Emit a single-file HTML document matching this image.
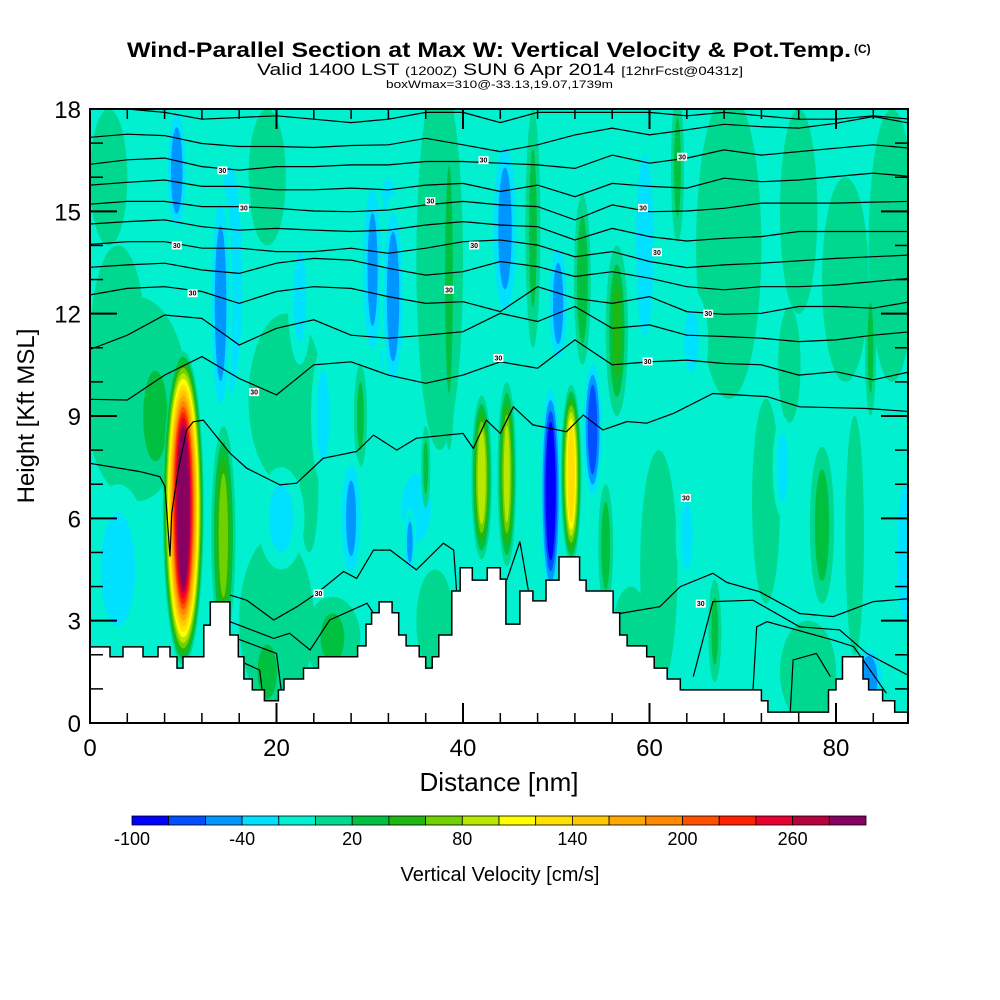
<!DOCTYPE html>
<html><head><meta charset="utf-8">
<style>
html,body{margin:0;padding:0;background:#fff;}
svg{display:block;font-family:"Liberation Sans",sans-serif;}
</style></head>
<body>
<svg id="chart" width="1000" height="1000" viewBox="0 0 1000 1000" xmlns="http://www.w3.org/2000/svg">
<defs><clipPath id="plotclip"><rect x="90" y="109" width="818" height="614"/></clipPath></defs>
<g>
<text x="127" y="57" font-size="21" font-weight="bold" textLength="724" lengthAdjust="spacingAndGlyphs">Wind-Parallel Section at Max W: Vertical Velocity &amp; Pot.Temp.</text>
<text x="854" y="53" font-size="12" font-weight="bold">(C)</text>
<text x="257" y="75" font-size="17" textLength="486" lengthAdjust="spacingAndGlyphs">Valid 1400 LST <tspan font-size="12">(1200Z)</tspan> SUN 6 Apr 2014 <tspan font-size="12">[12hrFcst@0431z]</tspan></text>
<text x="386" y="88" font-size="11" textLength="227" lengthAdjust="spacingAndGlyphs">boxWmax=310@-33.13,19.07,1739m</text>
</g>
<rect x="90" y="109" width="818" height="614" fill="#00f0d0"/>
<g id="field" clip-path="url(#plotclip)"></g>
<g id="contours" clip-path="url(#plotclip)"></g>
<g id="terrain"></g>
<g id="labels" clip-path="url(#plotclip)"></g>
<g id="axes"></g>
<text x="499" y="791" text-anchor="middle" font-size="26">Distance [nm]</text>
<text transform="translate(34,416) rotate(-90)" text-anchor="middle" font-size="24">Height [Kft MSL]</text>
<g id="colorbar"></g>
<text x="500" y="881" text-anchor="middle" font-size="20">Vertical Velocity [cm/s]</text>
</svg>
<script>
const NS="http://www.w3.org/2000/svg";
// ---- data ----
const binColors=["#0000ff","#0050ff","#0096ff","#00e0ff","#00f0d0","#00d890","#00c040","#20b810","#70d000","#b8e800","#ffff00","#ffe000","#ffc800","#ffa800","#ff8800","#ff5000","#ff2000","#e80030","#b80040","#880060"];
const cbTickValues=[-100,-40,20,80,140,200,260];
const xTickValues=[0,20,40,60,80];
const yTickValues=[0,3,6,9,12,15,18];
// features: [distance nm, height kft, half-width nm, half-height kft, peak cm/s]
const featX=[3,5,7,21,20,26,37,19,29,38.5,37.5,47.5,52.8,56.5,63,68.5,81,83.7,75,61,72.5,82,77,58,67,78.5,55.3,14.3,86,76,2,19,3,6.5,9.3,14,15,22.5,25,30.3,32.5,32,44.5,20.5,28,35,34.3,23.5,36,50.2,59.5,64.5,64,74.3,87.5,83.5,44.7,49.4,51.6,53.9,42,10];
const featY=[11,9.5,9,9.5,3,2.5,3,1.5,9,13,13.5,14.5,13,11.5,16.3,14,13,11,10.5,4.5,6.5,5.5,1.5,2.5,2.7,5.8,5.2,5.5,14,15,16,16,4.5,1.2,16.2,12.3,13,12.5,9,13.3,12.5,13,14.5,6,6,6.3,5.3,7,7.5,12.3,14,11.2,5.5,7.5,5,1.3,7.3,6.8,7.3,8.6,7.2,6.3];
const featRX=[3,5.5,2.5,4,4,3,2,2,0.7,0.8,2.5,0.8,0.9,1.2,0.7,3.5,2.5,0.6,1.2,2,1.5,1,3,2,0.7,1.3,0.8,1.3,2.5,2,2,2,3.5,0.7,1.3,1.3,2.5,1.3,1.3,1.5,1.4,2.5,1.7,2.5,1.5,3,0.7,1,0.5,1.3,1.8,1.8,1.2,1.1,1.8,1.8,1,1.2,1.1,1.2,1.1,2.2];
const featRY=[3,3,2,2.5,2.5,1.2,1.5,1.2,1.5,5,5.5,3.5,2.5,2.5,2.2,4.5,3,2,1.7,3.5,3,3.5,1.5,1.5,1.5,2.3,1.8,3.2,4,3,2,2,2.5,0.5,2,3.6,5,2,2,3,3,4.5,3,1.5,2,1.5,1,2,1.2,2,4,1.5,1.5,1.5,3,1,2.7,3.3,2.6,2.2,2.4,4.6];
const featPeak=[10,10,30,10,15,25,15,30,30,30,10,30,40,45,30,10,10,30,10,20,12,12,12,12,30,35,35,70,10,10,10,15,-30,-55,-55,-55,-30,-30,-30,-45,-55,-30,-50,-30,-45,-30,-50,15,30,-50,-30,-25,-30,-30,-30,-60,85,-105,135,-75,95,285];
// terrain: segment start (nm) and height (kft)
const terrX=[0,2.14,3.54,5.68,7.29,8.58,9.33,9.97,12.2,12.9,15.0,15.9,16.5,17.4,18.7,20.2,20.8,22.9,24.5,28.7,29.6,30.2,31.0,32.4,33.1,33.9,35.3,36.0,36.7,37.4,38.8,39.7,41.0,42.6,44.0,44.6,46.1,47.5,48.9,50.3,52.5,53.2,56.1,56.8,57.6,59.7,60.5,61.9,63.3,72.0,72.7,79.2,80.0,80.7,82.9,83.5,85.0,86.3];
const terrH=[2.23,1.94,2.23,1.94,2.23,1.94,1.61,1.94,2.87,3.55,2.58,1.94,1.29,0.97,0.65,0.97,1.29,1.61,1.94,2.26,2.9,3.23,3.55,3.23,2.58,2.26,1.94,1.61,1.94,2.58,3.87,4.55,4.19,4.55,4.22,2.9,3.87,3.58,4.19,4.87,4.19,3.87,3.23,2.58,2.26,1.94,1.61,1.29,0.97,0.65,0.32,0.97,1.29,1.94,1.29,0.97,0.65,0.32];
// upper theta contours sampled every 4 nm (0..88)
const gridX=[0,4,8,12,16,20,24,28,32,36,40,44,48,52,56,60,64,68,72,76,80,84,88];
const theta0=[18.0,18.0,17.9,17.7,17.75,17.8,17.7,17.6,17.7,17.9,17.9,17.6,17.9,17.9,17.9,17.9,17.8,17.9,17.8,17.7,17.7,17.8,17.7];
const theta1=[17.17,17.26,17.22,16.99,16.9,16.9,16.87,16.93,16.95,17.14,16.95,16.75,16.95,17.24,17.44,17.24,17.39,17.55,17.48,17.44,17.58,17.78,17.58];
const theta2=[16.38,16.51,16.56,16.31,16.21,16.31,16.31,16.36,16.36,16.46,16.46,16.41,16.36,16.26,16.65,16.41,16.56,16.8,16.65,16.75,16.85,16.95,16.85];
const theta3=[15.77,15.85,15.92,15.73,15.73,15.63,15.63,15.68,15.63,15.77,15.82,15.58,15.77,15.43,15.82,15.73,15.68,15.97,15.87,15.92,16.02,16.12,16.02];
const theta4=[15.21,15.29,15.29,15.14,15.14,15.09,15.01,14.99,15.04,15.19,15.29,15.19,15.14,14.75,15.19,14.99,15.01,15.09,15.24,15.24,15.24,15.27,15.29];
const theta5=[14.63,14.7,14.75,14.55,14.45,14.5,14.45,14.41,14.45,14.6,14.7,14.6,14.55,14.16,14.5,14.26,14.13,14.21,14.26,14.41,14.41,14.41,14.41];
const theta6=[14.03,14.11,14.11,13.92,13.92,13.82,13.82,13.92,13.77,13.92,14.11,14.16,14.01,13.67,13.82,13.53,13.35,13.43,13.48,13.55,13.62,13.67,13.72];
const theta7=[13.36,13.43,13.48,13.28,13.18,13.48,13.62,13.57,13.33,13.13,13.23,13.53,13.38,13.09,13.23,13.04,12.79,12.7,12.79,12.79,12.84,12.94,13.04];
const theta8=[12.55,12.74,12.79,12.65,12.3,12.65,12.79,12.74,12.5,12.3,12.35,12.06,12.79,12.45,12.3,12.5,12.06,11.98,12.01,12.21,12.21,12.16,12.35];
const theta9=[10.95,11.37,11.96,11.86,11.08,11.57,11.82,11.37,11.28,11.37,11.47,12.01,11.77,12.21,11.57,11.67,11.37,11.33,11.28,11.18,11.23,11.37,11.47];
const theta10=[9.49,9.47,10.2,10.74,10.1,9.62,10.5,10.59,10.2,9.96,10.2,10.59,10.4,11.23,10.5,10.59,10.64,10.54,10.5,10.2,10.3,10.06,10.3];
// lower contours: [nm, kft] pairs
const theta11=[[0,7.61],[5.36,7.37],[7.5,7.22],[8.04,6.93],[8.58,4.88],[8.76,6.15],[9.47,7.42],[10.36,8.59],[11.08,8.83],[12.15,8.88],[15.01,7.91],[16.8,7.47],[20.37,6.98],[22.16,7.03],[25.0,7.76],[28.6,7.96],[30.4,8.44],[32.9,8.0],[35.0,8.35],[40.0,8.49],[41.1,8.05],[42.5,8.88],[44.0,8.49],[45.4,9.27],[47.5,8.74],[51.1,8.54],[52.9,9.03],[55.0,8.59],[57.6,8.84],[59.7,8.79],[62.6,9.08],[66.8,9.66],[72.6,9.57],[76.1,9.27],[83.3,9.22],[88,9.13]];
const theta12a=[[15.0,3.75],[16.8,3.6],[19.7,3.02],[22.2,3.41],[24.3,3.8],[27.2,4.44],[28.6,4.24],[30.4,5.07],[32.2,5.07],[35.0,4.49],[37.9,5.27],[39.0,5.07],[39.3,3.9]];
const theta12b=[[44.7,4.19],[46.1,5.32],[47.0,3.9]];
const theta12c=[[56.8,3.21],[61.1,3.41],[63.3,4.0],[66.8,4.39],[68.3,4.12],[71.8,3.85],[76.1,3.21],[79.7,3.12],[84.0,3.56],[88,3.65]];
const theta13a=[[15.0,2.97],[19.7,2.48],[21.4,2.63],[23.6,2.14],[25.7,3.02],[29.7,3.51],[30.4,3.21]];
const theta13b=[[64.7,1.36],[66.8,3.56],[71.1,3.6],[76.1,2.82],[80.4,2.73],[83.3,2.04],[88,1.36]];
const theta14a=[[15.7,2.48],[20.0,2.04],[20.5,0.97]];
const theta14b=[[71.1,0.97],[71.5,2.82],[72.6,2.97],[79.7,2.43],[81.9,2.24],[85.4,0.87]];
const theta15a=[[16.6,1.75],[18.2,1.55],[18.6,0.67]];
const theta15b=[[75.1,0.33],[75.4,1.85],[77.9,2.04],[79.4,1.36]];
const labelX=[14.2,16.5,9.3,11,17.6,24.5,42.2,36.5,41.2,38.5,43.8,63.5,59.3,60.8,66.3,59.8,63.9,65.5];
const labelY=[16.2,15.1,14.0,12.6,9.7,3.8,16.5,15.3,14.0,12.7,10.7,16.6,15.1,13.8,12.0,10.6,6.6,3.5];

// ---- scales ----
const X0=90,X1=908,Y0=723,Y1=109,XMAX=(X1-X0)/9.325,YMAX=18;
const xS=v=>X0+v*9.325;
const yS=v=>Y0-v*(Y0-Y1)/YMAX;
const bin=v=>Math.max(0,Math.min(19,Math.floor((v+100)/20)));
function mk(tag,attrs,parent){const e=document.createElementNS(NS,tag);for(const k in attrs)e.setAttribute(k,attrs[k]);parent.appendChild(e);return e;}

// ---- field ----
const field=document.getElementById('field');
const order=featPeak.map((p,i)=>i).sort((a,b)=>Math.abs(featPeak[a])-Math.abs(featPeak[b]));
order.forEach(i=>{
  const p=featPeak[i];
  const g=mk('g',{},field);
  
  
  const steps=[];
  if(p>0){for(let t=0;t<p;t+=20)steps.push([t,bin(t+1),1-0.72*t/p]);}
  else{for(let t=0;t>p;t-=20)steps.push([t,bin(t-1),1-0.72*t/p]);}
  steps.forEach(s=>{
    const e=mk('ellipse',{cx:xS(featX[i]),cy:yS(featY[i]),rx:Math.max(0.5,featRX[i]*9.325*s[2]),ry:Math.max(0.5,featRY[i]*34.11*(0.3+0.7*s[2])),fill:binColors[s[1]]},g);
    
    
  });
});

// ---- contours ----
const cg=document.getElementById('contours');
[theta0,theta1,theta2,theta3,theta4,theta5,theta6,theta7,theta8,theta9,theta10].forEach((arr,j)=>{
  const d=arr.map((v,i)=>(i?'L':'M')+xS(gridX[i]).toFixed(1)+','+yS(v).toFixed(1)).join('');
  const p=mk('path',{d:d,fill:'none',stroke:'#000','stroke-width':1.2},cg);
  
  
});
[theta11,theta12a,theta12b,theta12c,theta13a,theta13b,theta14a,theta14b,theta15a,theta15b].forEach(arr=>{
  const d=arr.map((v,i)=>(i?'L':'M')+xS(v[0]).toFixed(1)+','+yS(v[1]).toFixed(1)).join('');
  const p=mk('path',{d:d,fill:'none',stroke:'#000','stroke-width':1.2},cg);
  
  
});

// ---- terrain ----
const tg=document.getElementById('terrain');
let td='M'+xS(terrX[0])+','+yS(terrH[0]);
for(let i=0;i<terrX.length;i++){
  const xe=i+1<terrX.length?xS(terrX[i+1]):X1;
  td+=' V'+yS(terrH[i]).toFixed(1)+' H'+xe.toFixed(1);
}
const tfill=mk('path',{d:td+' V'+Y0+' H'+X0+' Z',fill:'#fff',stroke:'none'},tg);


const tline=mk('path',{d:td,fill:'none',stroke:'#000','stroke-width':1.5},tg);



// ---- contour labels ----
const lg=document.getElementById('labels');
labelX.forEach((v,i)=>{
  const r=mk('rect',{x:xS(v)-5,y:yS(labelY[i])-4,width:10,height:8,fill:'#fff'},lg);
  
  
  const t=mk('text',{x:xS(v),y:yS(labelY[i])+2.5,'text-anchor':'middle','font-size':7,'font-weight':'bold'},lg);
  
  
  t.textContent='30';
});

// ---- axes ----
const ax=document.getElementById('axes');
const frame=mk('rect',{x:X0,y:Y1,width:X1-X0,height:Y0-Y1,fill:'none',stroke:'#000','stroke-width':2},ax);


for(let v=0;v<=XMAX;v+=4){
  const L=(v%20===0)?20:10;
  [[Y0,Y0-L],[Y1,Y1+L]].forEach(p=>{
    const l=mk('line',{x1:xS(v),x2:xS(v),y1:p[0],y2:p[1],stroke:'#000','stroke-width':(v%20===0)?2:1.5},ax);
    
    
  });
}
for(let v=0;v<=YMAX;v+=1){
  const L=(v%3===0)?27:13;
  [[X0,X0+L],[X1,X1-L]].forEach(p=>{
    const l=mk('line',{x1:p[0],x2:p[1],y1:yS(v),y2:yS(v),stroke:'#000','stroke-width':(v%3===0)?2:1.5},ax);
    
    
  });
}
xTickValues.forEach(v=>{
  const t=mk('text',{x:xS(v),y:756,'text-anchor':'middle','font-size':24},ax);
  
  
  t.textContent=v;
});
yTickValues.forEach(v=>{
  const t=mk('text',{x:81,y:yS(v)+9,'text-anchor':'end','font-size':24},ax);
  
  
  t.textContent=v;
});

// ---- colorbar ----
const cb=document.getElementById('colorbar');
const CB0=132,CB1=866,CBW=(CB1-CB0)/20;
const cbx=v=>CB0+(v+100)/20*CBW;
binColors.forEach((c,i)=>{
  const r=mk('rect',{x:CB0+i*CBW,y:816,width:CBW,height:9,fill:c,stroke:'#000','stroke-width':0.8},cb);
  
  
});
cbTickValues.forEach(v=>{
  const t=mk('text',{x:cbx(v),y:845,'text-anchor':'middle','font-size':18},cb);
  
  
  t.textContent=v;
});
</script>
</body></html>
